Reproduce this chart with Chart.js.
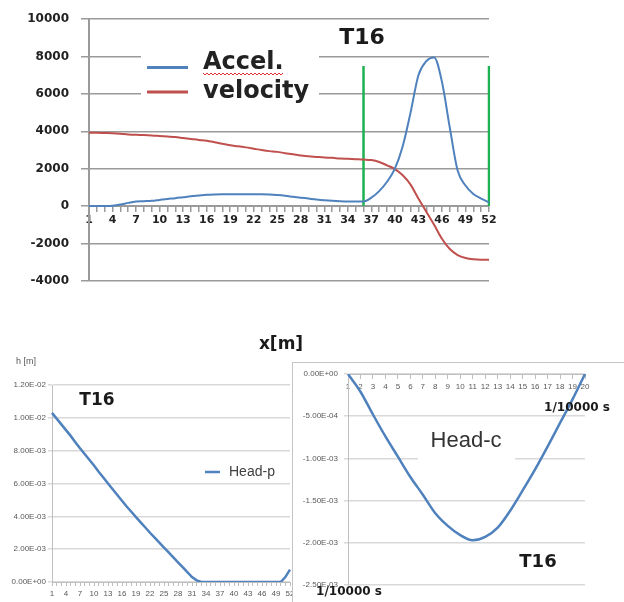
<!DOCTYPE html>
<html lang="en">
<head>
<meta charset="UTF-8">
<title>T16 head motion</title>
<style>
  html, body { margin: 0; padding: 0; background: #fff; overflow: hidden; }
  body { width: 624px; height: 602px; position: relative; }
  .box { position: absolute; }
  #wrap1 { left: 0; top: 0; width: 500px; height: 300px; }
  #wrap2 { left: 0; top: 320px; width: 320px; height: 282px; }
  #wrap3 { left: 292px; top: 362px; width: 340px; height: 240px; border: 1px solid #c4c4c4; background: #fff; }
</style>
<script src="https://cdn.jsdelivr.net/npm/chart.js"></script>
</head>
<body>
<div class="box" id="wrap1"><canvas id="c1"></canvas></div>
<div class="box" id="wrap2"><canvas id="c2"></canvas></div>
<div class="box" id="wrap3"><canvas id="c3"></canvas></div>

<script>
// categories
const steps = Array.from({ length: 52 }, (_, i) => String(i + 1));
const steps20 = Array.from({ length: 20 }, (_, i) => String(i + 1));

// top chart: acceleration and velocity
const accel = [0, 0, 0, 20, 80, 170, 240, 260, 280, 330, 380, 420, 470, 520, 560, 600, 620, 630, 630, 630,
  630, 630, 630, 620, 590, 550, 500, 450, 400, 350, 310, 280, 260, 250, 250, 250, 450, 800, 1300, 2000,
  3200, 5000, 7000, 7750, 7950, 6650, 4200, 1900, 1100, 650, 400, 200];
const velocity = [3920, 3920, 3910, 3900, 3870, 3830, 3810, 3800, 3780, 3750, 3720, 3690, 3640, 3590, 3540, 3500, 3420, 3330, 3250, 3200,
  3140, 3070, 3000, 2940, 2900, 2830, 2770, 2700, 2660, 2630, 2600, 2580, 2550, 2530, 2510, 2490, 2460, 2360, 2180, 1980,
  1650, 1150, 400, -300, -1000, -1750, -2300, -2620, -2780, -2850, -2870, -2870];
const markerSteps = ['36', '52'];
const markerTop = 7500;

// bottom left: Head-p
const headP = [0.0103, 0.00995, 0.0096, 0.00925, 0.0089, 0.00852, 0.00815, 0.0078, 0.00745, 0.0071,
  0.00672, 0.00636, 0.006, 0.00565, 0.0053, 0.00495, 0.0046, 0.00428, 0.00395, 0.00363,
  0.00332, 0.003, 0.0027, 0.0024, 0.0021, 0.0018, 0.0015, 0.0012, 0.0009, 0.0006,
  0.0003, 0.0001, 0, 0, 0, 0, 0, 0, 0, 0, 0, 0, 0, 0, 0, 0, 0, 0, 0, 0, 0.0003, 0.00075];

// bottom right: Head-c
const headC = [0, -0.00021, -0.00048, -0.00074, -0.00098, -0.00122, -0.00143, -0.00165, -0.0018, -0.00191,
  -0.00197, -0.00193, -0.00182, -0.00162, -0.00138, -0.00113, -0.00086, -0.00058, -0.0003, 0];

const blue = '#4f81bd';
const red = '#c0504d';
const green = '#1db150';

function sci(v) {
  if (Math.abs(v) < 1e-12) return '0.00E+00';
  const parts = v.toExponential(2).split('e');
  const n = parseInt(parts[1], 10);
  return parts[0] + 'E' + (n < 0 ? '-' : '+') + String(Math.abs(n)).padStart(2, '0');
}

function text(ctx, str, x, y, font, color, align, base) {
  ctx.save();
  ctx.font = font;
  ctx.fillStyle = color;
  ctx.textAlign = align || 'center';
  ctx.textBaseline = base || 'middle';
  ctx.fillText(str, x, y);
  ctx.restore();
}

function legendLine(ctx, x1, x2, y, color, w) {
  ctx.save();
  ctx.strokeStyle = color;
  ctx.lineWidth = w;
  ctx.beginPath();
  ctx.moveTo(x1, y);
  ctx.lineTo(x2, y);
  ctx.stroke();
  ctx.restore();
}

Chart.defaults.animation = false;
Chart.defaults.plugins.legend.display = false;
Chart.defaults.plugins.tooltip.enabled = false;

// ---------- top chart ----------
const grid1 = '#9a9a9a';
const tickFont1 = { family: 'DejaVu Sans', weight: 'bold', size: 12 };

const notes1 = {
  id: 'notes1',
  afterDraw(chart) {
    const ctx = chart.ctx;
    ctx.save();
    ctx.fillStyle = '#fff';
    ctx.fillRect(141, 44, 178, 60);
    ctx.restore();
    const ds = chart.data.datasets;
    legendLine(ctx, 147, 188, 67.5, ds[0].borderColor, 3);
    legendLine(ctx, 147, 188, 92, ds[1].borderColor, 3);
    const f = 'bold 24px "DejaVu Sans"';
    text(ctx, ds[0].label, 203, 69, f, '#222', 'left', 'alphabetic');
    text(ctx, ds[1].label, 203, 98, f, '#222', 'left', 'alphabetic');
    // spell-check squiggle under "Accel."
    ctx.save();
    ctx.strokeStyle = '#e03030';
    ctx.lineWidth = 1;
    ctx.beginPath();
    for (let x = 203, k = 0; x <= 284; x += 2, k++) {
      const y = 74 + (k % 2 ? 1 : -1);
      if (k === 0) ctx.moveTo(x, y); else ctx.lineTo(x, y);
    }
    ctx.stroke();
    ctx.restore();
    text(ctx, 'T16', 362, 38, 'bold 22px "DejaVu Sans"', '#1a1a1a');
  }
};

new Chart(document.getElementById('c1'), {
  type: 'line',
  data: {
    labels: steps,
    datasets: [
      { label: 'Accel.', data: accel, borderColor: blue, borderWidth: 2, pointRadius: 0, cubicInterpolationMode: 'monotone' },
      { label: 'velocity', data: velocity, borderColor: red, borderWidth: 2, pointRadius: 0, cubicInterpolationMode: 'monotone' },
      { label: 'T16 start', data: [{ x: markerSteps[0], y: 0 }, { x: markerSteps[0], y: markerTop }], borderColor: green, borderWidth: 2.5, pointRadius: 0 },
      { label: 'T16 end', data: [{ x: markerSteps[1], y: 0 }, { x: markerSteps[1], y: markerTop }], borderColor: green, borderWidth: 2.5, pointRadius: 0 }
    ]
  },
  options: {
    responsive: true,
    maintainAspectRatio: false,
    layout: { padding: { top: 15, right: 11, bottom: 17, left: 0 } },
    scales: {
      x: {
        position: { y: 0 },
        grid: { drawOnChartArea: false, color: grid1, lineWidth: 1.5, tickLength: 5 },
        border: { color: grid1, width: 2 },
        ticks: {
          autoSkip: false, maxRotation: 0, padding: 2, color: '#222',
          font: { family: 'DejaVu Sans', weight: 'bold', size: 11 },
          callback: (v, i) => (i % 3 === 0 ? steps[i] : '')
        }
      },
      y: {
        min: -4000, max: 10000,
        ticks: { stepSize: 2000, padding: 12, color: '#222', font: tickFont1, callback: v => String(v) },
        grid: { color: grid1, lineWidth: 1.5, tickLength: 8 },
        border: { color: grid1, width: 2 },
        afterFit: s => { s.width = 89; }
      }
    }
  },
  plugins: [notes1]
});

// ---------- bottom left chart ----------
const lightGrid = '#d9d9d9';
const axisGray = '#bfbfbf';
const smallFont = { family: 'Liberation Sans', size: 8 };

const notes2 = {
  id: 'notes2',
  afterDraw(chart) {
    const ctx = chart.ctx;
    text(ctx, 'h [m]', 26, 42, '9px "Liberation Sans"', '#595959');
    text(ctx, 'T16', 97, 81, 'bold 17px "DejaVu Sans"', '#1a1a1a');
    text(ctx, 'x[m]', 281, 25, 'bold 17px "DejaVu Sans"', '#1a1a1a');
    const ds = chart.data.datasets[0];
    legendLine(ctx, 205, 220, 152, ds.borderColor, 2.5);
    text(ctx, ds.label, 229, 152, '14px "Liberation Sans"', '#404040', 'left');
  }
};

new Chart(document.getElementById('c2'), {
  type: 'line',
  data: {
    labels: steps,
    datasets: [
      { label: 'Head-p', data: headP, borderColor: blue, borderWidth: 2.5, pointRadius: 0, tension: 0 }
    ]
  },
  options: {
    responsive: true,
    maintainAspectRatio: false,
    layout: { padding: { top: 65, right: 30, bottom: 0, left: 0 } },
    scales: {
      x: {
        grid: { drawOnChartArea: false, color: axisGray, tickLength: 4 },
        border: { color: axisGray },
        ticks: {
          autoSkip: false, maxRotation: 0, padding: 3, color: '#595959', font: smallFont,
          callback: (v, i) => (i % 3 === 0 ? steps[i] : '')
        },
        afterFit: s => { s.height = 20; }
      },
      y: {
        min: 0, max: 0.012,
        ticks: { stepSize: 0.002, padding: 2, color: '#595959', font: smallFont, callback: v => sci(v) },
        grid: { color: lightGrid, lineWidth: 1.5, tickLength: 4 },
        border: { color: axisGray },
        afterFit: s => { s.width = 52; }
      }
    }
  },
  plugins: [notes2]
});

// ---------- bottom right chart ----------
const notes3 = {
  id: 'notes3',
  beforeDatasetsDraw(chart) {
    const ctx = chart.ctx;
    ctx.save();
    ctx.fillStyle = '#fff';
    ctx.fillRect(125, 62, 97, 38);
    ctx.restore();
    text(ctx, chart.data.datasets[0].label, 173, 78, '22px "Liberation Sans"', '#333');
  },
  afterDraw(chart) {
    const ctx = chart.ctx;
    text(ctx, '1/10000 s', 284, 45, 'bold 12px "DejaVu Sans"', '#1a1a1a');
    text(ctx, 'T16', 245, 199, 'bold 18px "DejaVu Sans"', '#1a1a1a');
    text(ctx, '1/10000 s', 56, 229, 'bold 12px "DejaVu Sans"', '#1a1a1a');
  }
};

new Chart(document.getElementById('c3'), {
  type: 'line',
  data: {
    labels: steps20,
    datasets: [
      { label: 'Head-c', data: headC, borderColor: blue, borderWidth: 2.5, pointRadius: 0, cubicInterpolationMode: 'monotone' }
    ]
  },
  options: {
    responsive: true,
    maintainAspectRatio: false,
    layout: { padding: { top: 11, right: 48, bottom: 18, left: 0 } },
    scales: {
      x: {
        position: { y: 0 },
        grid: { drawOnChartArea: false, color: axisGray, tickLength: 4 },
        border: { color: axisGray },
        ticks: { autoSkip: false, maxRotation: 0, padding: 4, color: '#595959', font: smallFont }
      },
      y: {
        min: -0.0025, max: 0,
        ticks: { stepSize: 0.0005, padding: 6, color: '#595959', font: smallFont, callback: v => sci(v) },
        grid: { color: lightGrid, lineWidth: 1.5, tickLength: 4 },
        border: { color: axisGray },
        afterFit: s => { s.width = 55; }
      }
    }
  },
  plugins: [notes3]
});
</script>
</body>
</html>
